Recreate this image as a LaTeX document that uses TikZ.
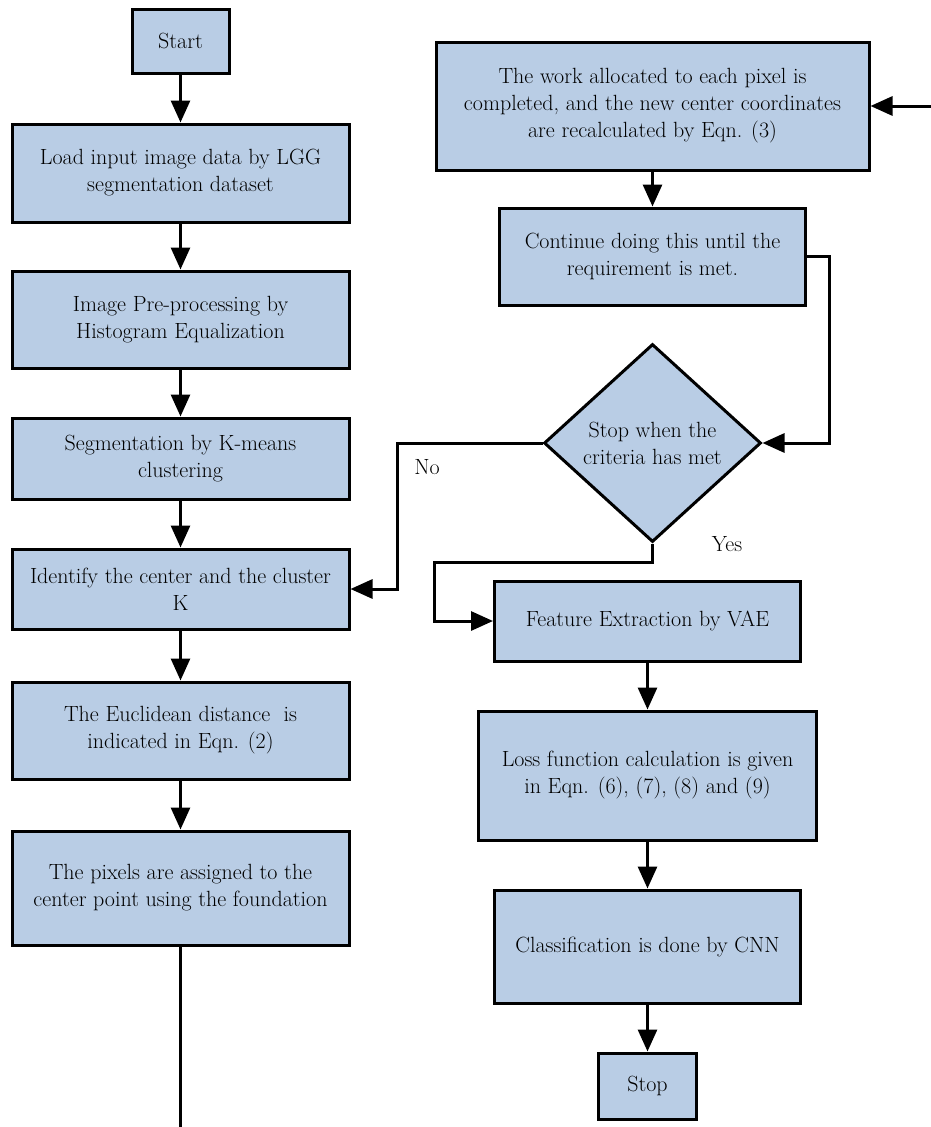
\documentclass[tikz,border=0pt]{standalone}
\usepackage{fix-cm}
\usepackage{tikz}
\usetikzlibrary{shapes.geometric}
\usetikzlibrary{arrows.meta,positioning}
\definecolor{boxblue}{RGB}{185,205,229}
\tikzstyle{pb}=[rectangle, draw=black, fill=boxblue, line width=3pt, align=center, inner sep=4pt, font=\fontsize{22}{27}\selectfont]
\tikzstyle{db}=[diamond, draw=black, fill=boxblue, line width=3pt, align=center, inner sep=0pt, aspect=1.1, font=\fontsize{22}{27}\selectfont]
\tikzstyle{lb}=[font=\fontsize{22}{27}\selectfont]

\begin{document}
\begin{tikzpicture}
[->, >={Triangle[length=22pt,width=19pt]}, line width=3pt]
\useasboundingbox (0,0) rectangle (931pt,-1127pt);
% left column
\node[pb, minimum width=97pt, minimum height=64pt] (1) at (180.5pt,-41pt) {Start};
\node[pb, minimum width=337pt, minimum height=98pt] [below=48pt of 1] (2) {Load input image data by LGG\\segmentation dataset};
\node[pb, minimum width=337pt, minimum height=97pt] [below=46pt of 2] (3) {Image Pre-processing by\\Histogram Equalization};
\node[pb, minimum width=337pt, minimum height=81pt] [below=47pt of 3] (4) {Segmentation by K-means\\clustering};
\node[pb, minimum width=337pt, minimum height=80pt] [below=47pt of 4] (5) {Identify the center and the cluster\\K};
\node[pb, minimum width=337pt, minimum height=97pt] [below=50pt of 5] (6) {The Euclidean distance\ \ is\\indicated in Eqn. (2)};
\node[pb, minimum width=337pt, minimum height=114pt] [below=49pt of 6] (7) {The pixels are assigned to the\\center point using the foundation};
% right column
\node[pb, minimum width=433pt, minimum height=128pt] (8) at (652.5pt,-106pt) {The work allocated to each pixel is\\completed, and the new center coordinates\\are recalculated by Eqn. (3)};
\node[pb, minimum width=306pt, minimum height=97pt] [below=35pt of 8] (9) {Continue doing this until the\\requirement is met.};
\node[db, minimum width=217pt, minimum height=198pt] [below=36pt of 9] (10) {Stop when the\\criteria has met};
\node[pb, minimum width=306pt, minimum height=80pt] [below=36pt of 10, xshift=-5pt] (11) {Feature Extraction by VAE};
\node[pb, minimum width=338pt, minimum height=129pt] [below=47pt of 11] (12) {Loss function calculation is given\\in Eqn. (6), (7), (8) and (9)};
\node[pb, minimum width=306pt, minimum height=113pt] [below=47pt of 12] (13) {Classification is done by CNN};
\node[pb, minimum width=98pt, minimum height=66pt] [below=47pt of 13] (14) {Stop};
% labels and loose ends
\node[lb] (no) at (427pt,-467pt) {No};
\node[lb] (yes) at (727pt,-544pt) {Yes};
\coordinate (lin) at (931pt,-106pt);
\coordinate (lout) at (180.5pt,-1127pt);
\path{
(1) edge (2)
(2) edge (3)
(3) edge (4)
(4) edge (5)
(5) edge (6)
(6) edge (7)
(8) edge (9)
(11) edge (12)
(12) edge (13)
(13) edge (14)
(lin) edge (8)
};
\draw[-] (7) -- (lout);
\draw (9.east) -- ++(22pt,0) |- (10.east);
\draw (10.west) -- ++(-145pt,0) |- (5.east);
\draw (10.south) -- ++(0,-19pt) -- ++(-218pt,0) |- (11.west);
\end{tikzpicture}
\end{document}
